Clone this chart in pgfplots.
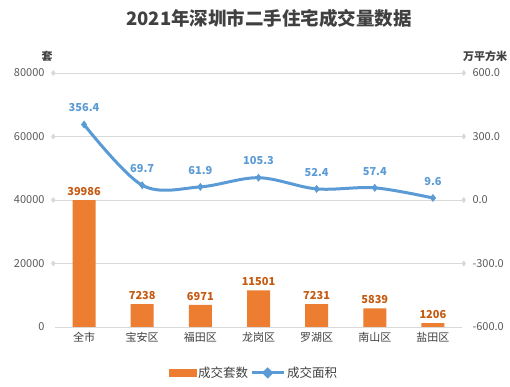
\documentclass[border=0pt]{standalone}
\usepackage{pgfplots}
\pgfplotsset{compat=1.18}
\usepackage{fontspec}
\setmainfont{Noto Sans CJK SC}
\definecolor{barc}{HTML}{ED7D31}
\definecolor{barl}{HTML}{C55A11}
\definecolor{linec}{HTML}{5B9BD5}
\definecolor{txt}{HTML}{595959}
\definecolor{gridc}{HTML}{D9D9D9}
\definecolor{titc}{HTML}{404040}
\begin{document}
\begin{tikzpicture}
\useasboundingbox (0,0) rectangle (510pt,387pt);
\pgfplotsset{common/.style={
  at={(55pt,60pt)}, anchor=south west, scale only axis,
  width=407pt, height=254pt, xmin=-0.5, xmax=6.5,
  /pgf/number format/assume math mode=true,
  tick label style={font=\fontsize{11}{12}\selectfont, text=txt},
  major tick length=0pt, axis line style={draw=none},
  clip=false}}
\begin{axis}[common,
  ymin=0, ymax=80000, ytick={0,20000,40000,60000,80000},
  ymajorgrids, grid style={gridc, line width=0.8pt},
  xtick={0,...,6},
  xticklabels={全市,宝安区,福田区,龙岗区,罗湖区,南山区,盐田区},
  xticklabel style={text=titc, yshift=-2pt},
  scaled y ticks=false,
  yticklabel style={/pgf/number format/1000 sep={}, xshift=-7pt},
  axis y line*=left, axis x line*=bottom,
  ]
\addplot[ybar, bar width=23pt, fill=barc, draw=none,
  nodes near coords,
  nodes near coords style={font=\fontsize{11}{12}\selectfont\bfseries, text=barl, /pgf/number format/1000 sep={}, /pgf/number format/assume math mode=true, yshift=1pt}]
  coordinates {(0,39986) (1,7238) (2,6971) (3,11501) (4,7231) (5,5839) (6,1206)};
\addplot[only marks, mark=diamond*, mark size=2.6pt, gridc]
  coordinates {(-0.53,20000) (-0.53,40000) (-0.53,60000) (-0.53,80000)};
\end{axis}
\begin{axis}[common,
  ymin=-600, ymax=600, ytick={-600,-300,0,300,600},
  xtick=\empty,
  yticklabel style={/pgf/number format/fixed, /pgf/number format/fixed zerofill, /pgf/number format/precision=1, xshift=7pt},
  axis y line*=right, axis x line*=bottom,
  legend columns=2,
  legend style={draw=none, fill=none, at={(0.489,-0.181)}, anchor=center,
    font=\fontsize{12.5}{13}\selectfont, text=titc, inner xsep=0pt,
    /tikz/every odd column/.append style={column sep=0pt},
    /tikz/every even column/.append style={column sep=0pt}},
  ]
\addplot[only marks, mark=diamond*, mark size=2.6pt, gridc, forget plot]
  coordinates {(6.53,-300) (6.53,0) (6.53,300) (6.53,600)};
\addlegendimage{legend image code/.code={\fill[barc] (0pt,-3.5pt) rectangle (27pt,3.5pt);}}
\addlegendentry{成交套数}
\addplot[linec, line width=3pt, smooth, tension=0.55, mark=diamond*, mark size=3.6pt,
  mark options={fill=linec, draw=linec, line width=0.5pt},
  legend image code/.code={\draw[linec, line width=3pt] (0pt,0pt) -- (32pt,0pt); \fill[linec] (16pt,3.6pt) -- (19.6pt,0pt) -- (16pt,-3.6pt) -- (12.4pt,0pt) -- cycle;},
  nodes near coords,
  nodes near coords style={font=\fontsize{11}{12}\selectfont\bfseries, text=linec, /pgf/number format/fixed, /pgf/number format/fixed zerofill, /pgf/number format/precision=1, /pgf/number format/assume math mode=true, yshift=9pt}]
  coordinates {(0,356.4) (1,69.7) (2,61.9) (3,105.3) (4,52.4) (5,57.4) (6,9.6)};
\addlegendentry{成交面积}
\end{axis}
\node[font=\fontsize{18.5}{20}\selectfont\bfseries, text=titc] at (269pt,369pt) {2021年深圳市二手住宅成交量数据};
\node[font=\fontsize{11}{12}\selectfont\bfseries, text=titc] at (47pt,331pt) {套};
\node[font=\fontsize{11}{12}\selectfont\bfseries, text=titc] at (485pt,331pt) {万平方米};
\end{tikzpicture}
\end{document}
